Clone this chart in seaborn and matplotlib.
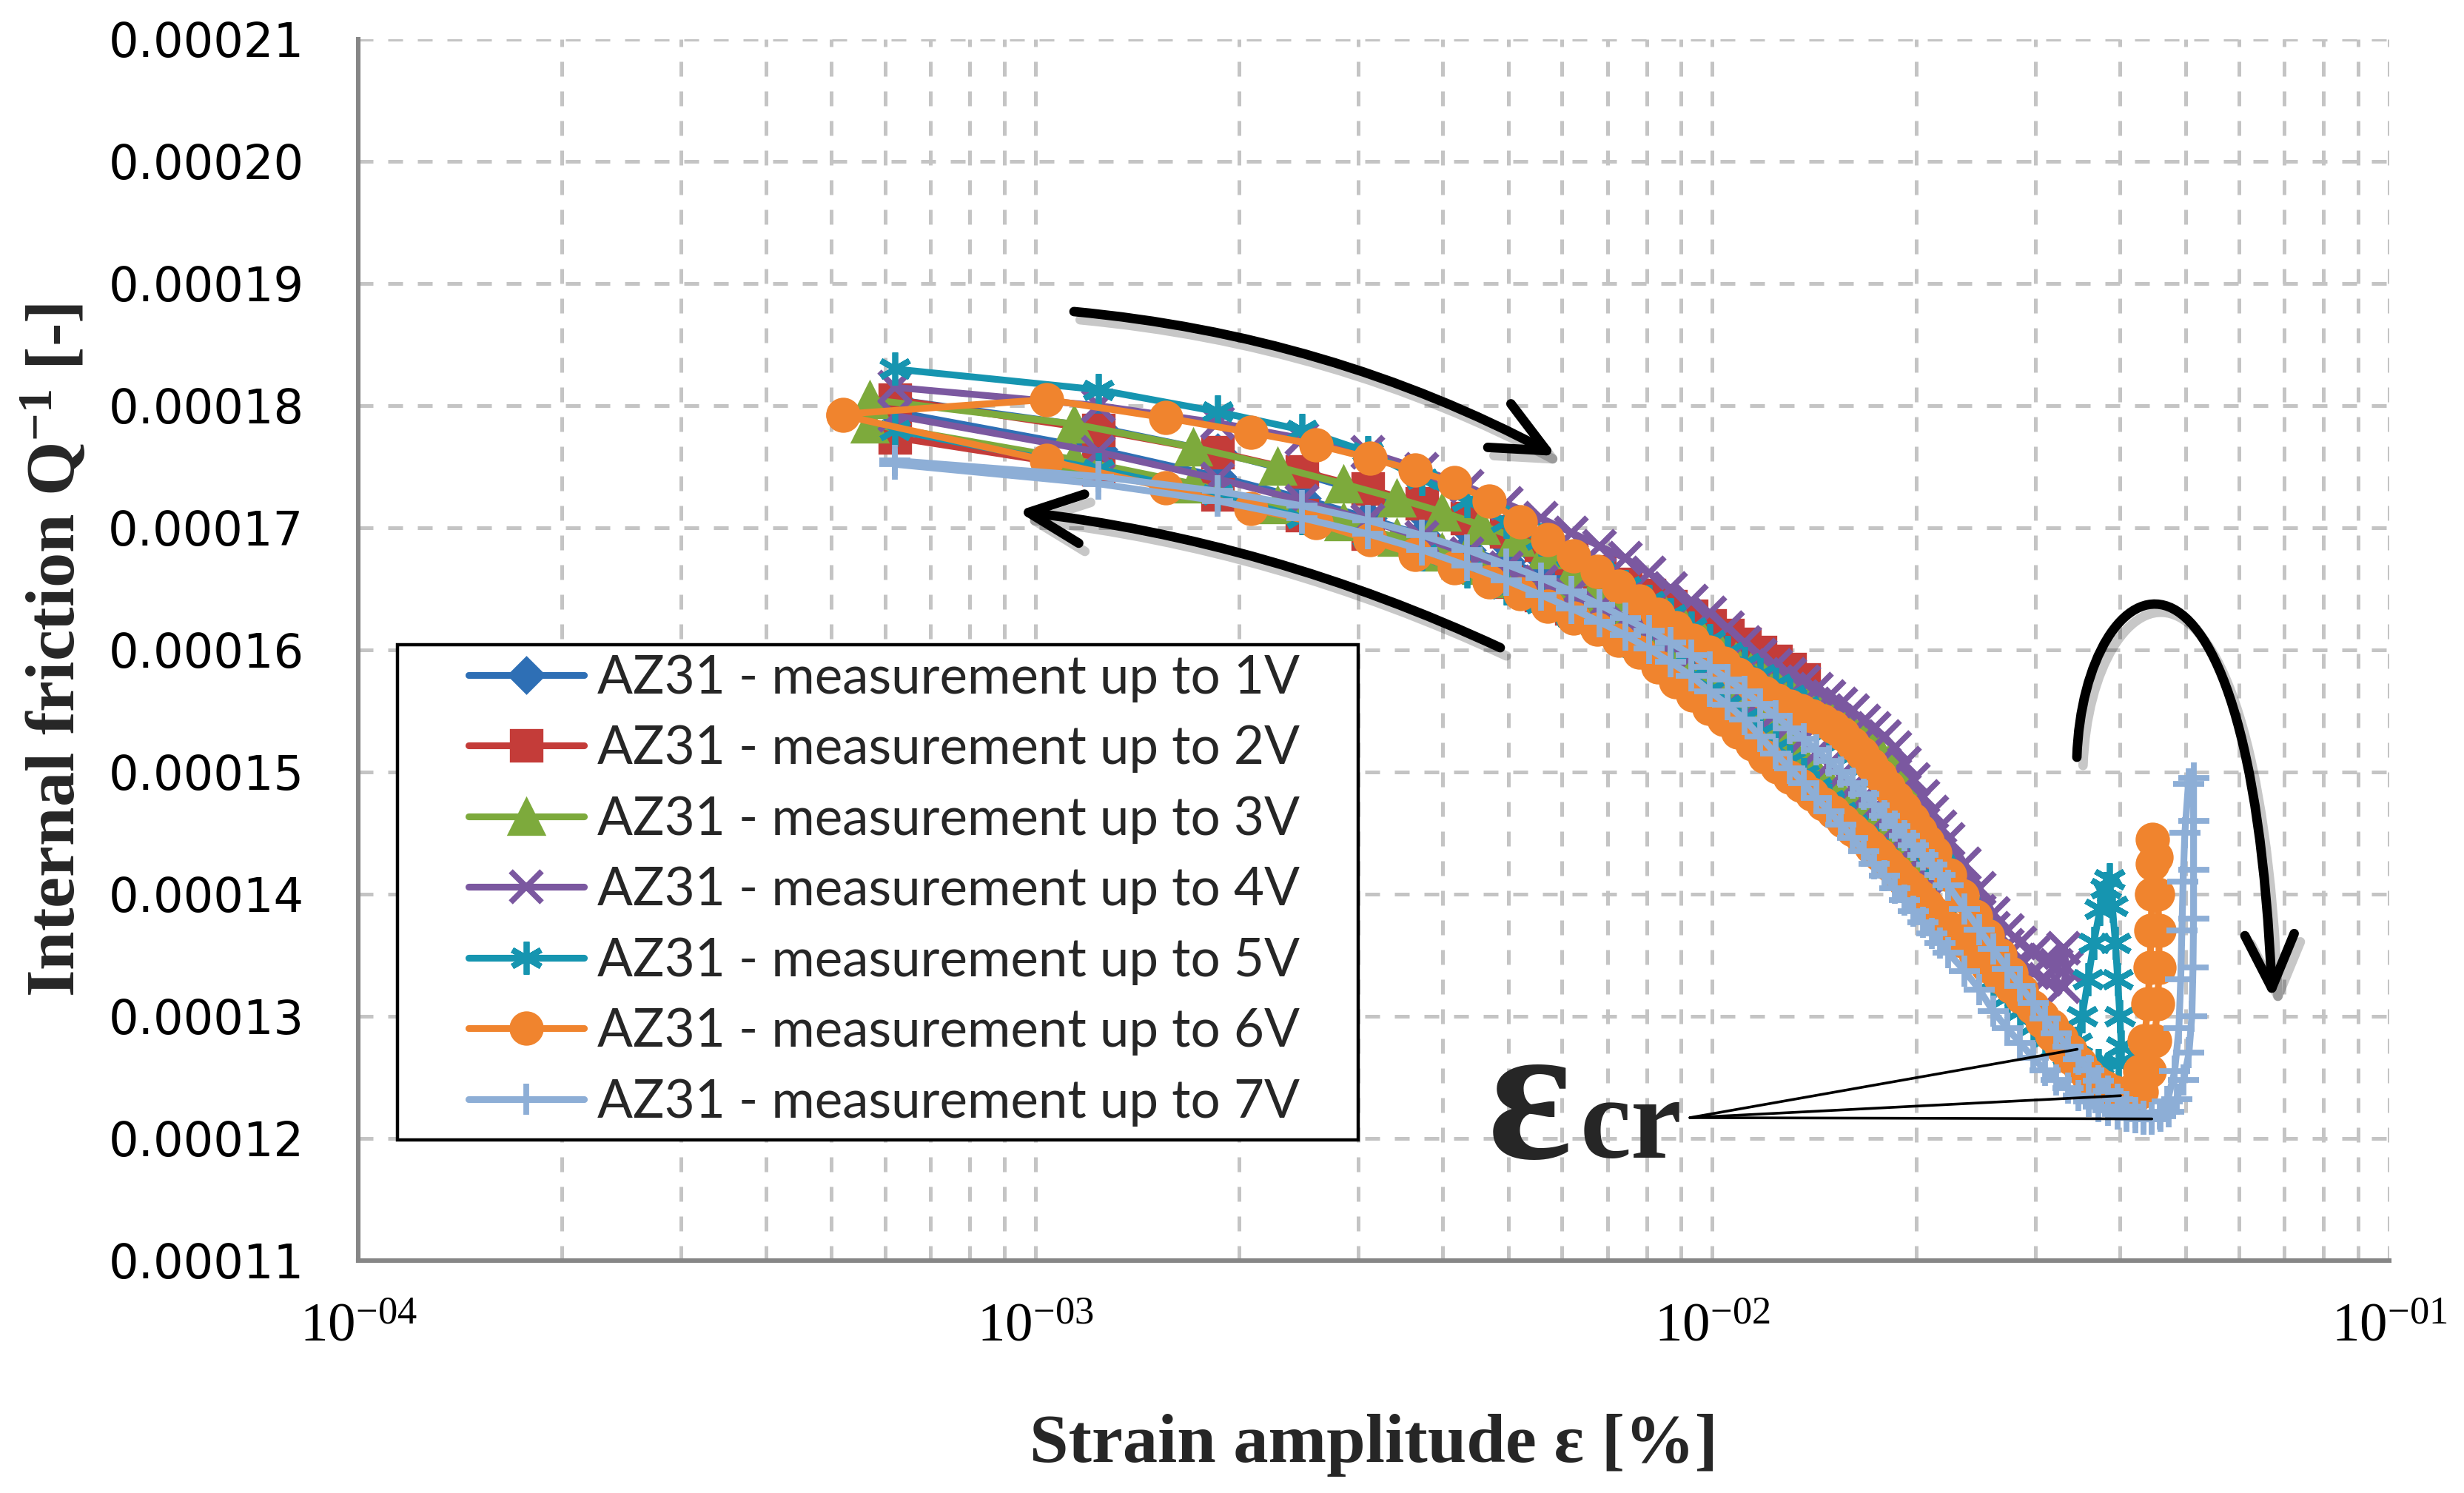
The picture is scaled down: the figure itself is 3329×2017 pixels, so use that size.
import numpy as np
import pandas as pd
import matplotlib
matplotlib.use("Agg")
import matplotlib.pyplot as plt
import matplotlib.patheffects as pe
from matplotlib.patches import FancyArrowPatch, Rectangle
from matplotlib.path import Path
from matplotlib.ticker import MultipleLocator, LogLocator, FuncFormatter, FormatStrFormatter, NullFormatter
import seaborn as sns

sns.set_style("white")
plt.rcParams["font.family"] = ["DejaVu Sans"]
plt.rcParams["mathtext.fontset"] = "custom"
plt.rcParams["mathtext.rm"] = "Liberation Serif"
plt.rcParams["mathtext.bf"] = "Liberation Serif:bold"
plt.rcParams["mathtext.it"] = "Liberation Serif:italic"

# strain amplitude ladders [%] (one step per 0.1 V of excitation)
strain_062 = [0.00062, 0.00124, 0.00186, 0.00248, 0.0031, 0.00372, 0.00434, 0.00496, 0.00558, 0.0062,
              0.00682, 0.00744, 0.00806, 0.00868, 0.0093, 0.00992, 0.01054, 0.01116, 0.01178, 0.0124,
              0.01302, 0.01364, 0.01426, 0.01488, 0.0155, 0.01612, 0.01674, 0.01736, 0.01798, 0.0186,
              0.01922, 0.01984, 0.02046, 0.02108, 0.0217, 0.02232, 0.0236, 0.0248, 0.026, 0.0273,
              0.0285, 0.0298, 0.031, 0.0322, 0.0335, 0.0347, 0.036, 0.0372, 0.0384, 0.0397,
              0.0409, 0.0422, 0.0434, 0.0446]
strain_057 = [0.00057, 0.00114, 0.00171, 0.00228, 0.00285, 0.00342, 0.00399, 0.00456, 0.00513, 0.0057,
              0.00627, 0.00684, 0.00741, 0.00798, 0.00855, 0.00912, 0.00969, 0.01026, 0.01083, 0.0114,
              0.01197, 0.01254, 0.01311, 0.01368, 0.01425, 0.01482, 0.01539, 0.01596, 0.01653, 0.0171,
              0.01767, 0.01824, 0.01881, 0.01938, 0.01995, 0.02052, 0.02109, 0.02166, 0.02223]
strain_052 = [0.00052, 0.00104, 0.00156, 0.00208, 0.0026, 0.00312, 0.00364, 0.00416, 0.00468, 0.0052,
              0.00572, 0.00624, 0.00676, 0.00728, 0.0078, 0.00832, 0.00884, 0.00936, 0.00988, 0.0104,
              0.01092, 0.01144, 0.01196, 0.01248, 0.013, 0.01352, 0.01404, 0.01456, 0.01508, 0.0156,
              0.01612, 0.01664, 0.01716, 0.01768, 0.0182, 0.01872, 0.01924, 0.01976, 0.02028, 0.0208,
              0.0213, 0.0224, 0.0234, 0.0245, 0.0255, 0.0266, 0.0276, 0.0286, 0.0297, 0.0307,
              0.0317, 0.0328, 0.0338, 0.0349, 0.0359, 0.0369, 0.038, 0.0395]

# internal friction Q^-1 in units of 1e-5; "up" = increasing amplitude, "dn" = decreasing (listed by rising strain)
q_up_1v = [18.05, 17.82, 17.62, 17.44, 17.28, 17.13, 17.00, 16.88, 16.77, 16.66, 16.56]
q_dn_1v = [17.95, 17.64, 17.42, 17.24, 17.08, 16.94, 16.82, 16.72, 16.63, 16.58]

q_up_2v = [18.05, 17.80, 17.62, 17.46, 17.32, 17.20, 17.08, 16.97, 16.86, 16.75, 16.64, 16.54, 16.45,
           16.36, 16.28, 16.20, 16.12, 16.05, 15.98, 15.91, 15.84, 15.76]
q_dn_2v = [17.74, 17.48, 17.27, 17.10, 16.95, 16.81, 16.68, 16.56, 16.45, 16.34, 16.24, 16.15, 16.07,
           16.00, 15.94, 15.89, 15.85, 15.81, 15.78, 15.76, 15.75]

q_up_3v = [18.05, 17.85, 17.66, 17.50, 17.36, 17.24, 17.13, 17.02, 16.92, 16.82, 16.68, 16.57, 16.47,
           16.37, 16.27, 16.17, 16.08, 15.99, 15.90, 15.82, 15.75, 15.69, 15.63, 15.58, 15.53, 15.48,
           15.43, 15.38, 15.31, 15.24, 15.16, 15.08, 14.99, 14.90, 14.80, 14.68, 14.55, 14.38, 14.18]
q_dn_3v = [17.85, 17.56, 17.36, 17.19, 17.05, 16.92, 16.80, 16.69, 16.58, 16.48, 16.38, 16.28, 16.18,
           16.08, 15.98, 15.88, 15.78, 15.68, 15.58, 15.48, 15.38, 15.28, 15.18, 15.08, 14.99, 14.91,
           14.83, 14.75, 14.67, 14.59, 14.51, 14.44, 14.38, 14.33, 14.28, 14.24, 14.21, 14.19]

q_up_4v = [18.15, 18.00, 17.86, 17.73, 17.62, 17.48, 17.34, 17.20, 17.08, 16.96, 16.85, 16.75, 16.63,
           16.50, 16.40, 16.30, 16.18, 16.06, 15.96, 15.87, 15.80, 15.74, 15.68, 15.62, 15.56, 15.50,
           15.42, 15.36, 15.29, 15.20, 15.07, 14.94, 14.80, 14.67, 14.55, 14.45, 14.25, 14.05, 13.84,
           13.70, 13.60, 13.52, 13.46, 13.42]
turn_x_4v = [0.0330, 0.0334, 0.0330]
turn_q_4v = [13.56, 13.40, 13.24]
q_dn_4v = [17.92, 17.62, 17.40, 17.22, 17.06, 16.92, 16.79, 16.67, 16.56, 16.45, 16.35, 16.25, 16.15,
           16.05, 15.95, 15.86, 15.77, 15.68, 15.58, 15.48, 15.38, 15.27, 15.16, 15.06, 14.97, 14.88,
           14.79, 14.70, 14.62, 14.54, 14.47, 14.39, 14.32, 14.25, 14.18, 14.11, 13.98, 13.86, 13.72,
           13.58, 13.46, 13.36, 13.30]

q_up_5v = [18.30, 18.13, 17.95, 17.80, 17.62, 17.40, 17.22, 17.05, 16.90, 16.77, 16.64, 16.52, 16.40,
           16.29, 16.18, 16.08, 15.98, 15.89, 15.80, 15.72, 15.63, 15.54, 15.44, 15.34, 15.24, 15.14,
           15.04, 14.94, 14.84, 14.74, 14.64, 14.54, 14.44, 14.34, 14.24, 14.13, 13.92, 13.72, 13.54,
           13.36, 13.20, 13.05, 12.93, 12.83, 12.76]
turn_x_5v = [0.0346, 0.0352, 0.0359, 0.0366, 0.0374, 0.0381, 0.0386, 0.0390, 0.0394, 0.0397, 0.0400,
             0.0402, 0.0398]
turn_q_5v = [12.78, 13.00, 13.30, 13.60, 13.88, 14.05, 14.12, 13.90, 13.60, 13.30, 13.00, 12.75, 12.62]
q_dn_5v = [17.80, 17.48, 17.27, 17.08, 16.92, 16.78, 16.64, 16.50, 16.38, 16.27, 16.17, 16.07, 15.98,
           15.88, 15.78, 15.67, 15.56, 15.44, 15.32, 15.20, 15.09, 14.98, 14.87, 14.77, 14.67, 14.57,
           14.47, 14.38, 14.29, 14.20, 14.11, 14.02, 13.94, 13.86, 13.78, 13.70, 13.55, 13.42, 13.29,
           13.16, 13.04, 12.92, 12.82, 12.74, 12.67, 12.62, 12.60, 12.60]

q_up_6v = [17.93, 18.05, 17.90, 17.78, 17.68, 17.57, 17.47, 17.37, 17.22, 17.05, 16.90, 16.77, 16.64,
           16.52, 16.40, 16.29, 16.18, 16.08, 15.98, 15.89, 15.80, 15.72, 15.65, 15.59, 15.54, 15.50,
           15.46, 15.42, 15.37, 15.31, 15.23, 15.15, 15.06, 14.97, 14.88, 14.79, 14.70, 14.61, 14.52,
           14.43, 14.34, 14.16, 13.99, 13.82, 13.66, 13.50, 13.35, 13.21, 13.08, 12.96, 12.85, 12.75,
           12.66, 12.58, 12.51, 12.46, 12.42]
turn_x_6v = [0.0392, 0.0405, 0.0418, 0.0428, 0.0435, 0.0440, 0.0443, 0.0445, 0.0446, 0.0447, 0.0447,
             0.0452, 0.0455, 0.0457, 0.0457, 0.0455, 0.0450, 0.0442, 0.0430, 0.0415]
turn_q_6v = [12.38, 12.36, 12.40, 12.55, 12.80, 13.10, 13.40, 13.70, 14.00, 14.25, 14.45, 14.30, 14.00,
             13.70, 13.40, 13.10, 12.80, 12.55, 12.38, 12.30]
q_dn_6v = [17.92, 17.55, 17.33, 17.16, 17.04, 16.90, 16.78, 16.67, 16.56, 16.46, 16.36, 16.26, 16.17,
           16.08, 15.98, 15.86, 15.74, 15.63, 15.52, 15.43, 15.33, 15.23, 15.13, 15.04, 14.96, 14.89,
           14.82, 14.74, 14.67, 14.60, 14.53, 14.46, 14.39, 14.32, 14.25, 14.18, 14.11, 14.05, 13.98,
           13.91, 13.84, 13.72, 13.62, 13.51, 13.41, 13.32, 13.24, 13.16, 13.07, 13.00, 12.92, 12.82,
           12.72, 12.62, 12.52, 12.44, 12.36, 12.30]

q_up_7v = [17.55, 17.42, 17.30, 17.18, 17.06, 16.94, 16.82, 16.70, 16.59, 16.48, 16.37, 16.26, 16.16,
           16.06, 15.96, 15.86, 15.76, 15.66, 15.56, 15.46, 15.36, 15.27, 15.18, 15.09, 15.00, 14.91,
           14.82, 14.73, 14.64, 14.56, 14.48, 14.40, 14.32, 14.24, 14.16, 14.07, 13.88, 13.71, 13.55,
           13.39, 13.25, 13.11, 12.98, 12.86, 12.75, 12.65, 12.56, 12.47, 12.39, 12.32, 12.26, 12.21,
           12.18, 12.17]
turn_x_7v = [0.0459, 0.0472, 0.0485, 0.0497, 0.0506, 0.0511, 0.0513, 0.0514, 0.0514, 0.0514, 0.0514,
             0.0505, 0.0499, 0.0496, 0.0494, 0.0492, 0.0489, 0.0482, 0.0470, 0.0458]
turn_q_7v = [12.18, 12.22, 12.32, 12.48, 12.70, 13.00, 13.40, 13.80, 14.20, 14.60, 14.95, 14.90, 14.50,
             14.10, 13.70, 13.30, 12.90, 12.55, 12.30, 12.20]
q_dn_7v = [17.52, 17.36, 17.22, 17.08, 16.95, 16.82, 16.69, 16.57, 16.45, 16.34, 16.23, 16.12, 16.01,
           15.90, 15.79, 15.66, 15.55, 15.43, 15.29, 15.15, 15.03, 14.91, 14.79, 14.68, 14.57, 14.46,
           14.35, 14.25, 14.15, 14.05, 13.95, 13.86, 13.77, 13.68, 13.60, 13.52, 13.37, 13.22, 13.04,
           12.90, 12.78, 12.66, 12.56, 12.48, 12.41, 12.35, 12.30, 12.26, 12.23, 12.20, 12.18, 12.17,
           12.16, 12.16]

labels = ["AZ31 - measurement up to %dV" % v for v in range(1, 8)]
colors = ["#2E6FB5", "#C43C39", "#7DAA3C", "#7B58A0", "#1695B0", "#F0842E", "#8DAED6"]

# critical strain marker lines (start at the label, end at the minima)
ecr_start = (0.00927, 1.217e-4)
ecr_end_x = [0.0346, 0.0401, 0.0446]
ecr_end_q = [1.273e-4, 1.235e-4, 1.216e-4]

series = [
    (strain_062, q_up_1v, [], [], q_dn_1v, "D", 12, 1.2),
    (strain_062, q_up_2v, [], [], q_dn_2v, "s", 15, 1.2),
    (strain_057, q_up_3v, [], [], q_dn_3v, "^", 17, 1.2),
    (strain_062, q_up_4v, turn_x_4v, turn_q_4v, q_dn_4v, "x", 15, 2.8),
    (strain_062, q_up_5v, turn_x_5v, turn_q_5v, q_dn_5v, (6, 2, 0), 16, 2.8),
    (strain_052, q_up_6v, turn_x_6v, turn_q_6v, q_dn_6v, "o", 15.5, 1.2),
    (strain_062, q_up_7v, turn_x_7v, turn_q_7v, q_dn_7v, "+", 15, 2.8),
]

fig = plt.figure(figsize=(16.65, 10.085), dpi=200)
ax = fig.add_axes([0.14535, 0.15568, 0.82402, 0.81805])

for (ladder, q_up, tx, tq, q_dn, marker, ms, mew), name, color in zip(series, labels, colors):
    xs = list(ladder[:len(q_up)]) + tx + list(ladder[:len(q_dn)])[::-1]
    qs = q_up + tq + q_dn[::-1]
    df = pd.DataFrame({"strain": xs, "q": np.array(qs) * 1e-5})
    sns.lineplot(data=df, x="strain", y="q", sort=False, estimator=None, ax=ax,
                 color=color, lw=3.3, marker=marker, markersize=ms,
                 markerfacecolor=color, markeredgecolor=color, markeredgewidth=mew,
                 label=name)

handles, leg_labels = ax.get_legend_handles_labels()

# axes
ax.set_xscale("log")
ax.set_xlim(1e-4, 1e-1)
ax.set_ylim(0.00011, 0.00021)
ax.xaxis.set_major_locator(LogLocator(base=10, numticks=10))
ax.xaxis.set_minor_locator(LogLocator(base=10, subs=np.arange(2, 10), numticks=20))
ax.xaxis.set_minor_formatter(NullFormatter())
ax.xaxis.set_major_formatter(FuncFormatter(
    lambda v, p: r"10$^{\mathrm{-%02d}}$" % (-int(round(np.log10(v))))))
ax.yaxis.set_major_locator(MultipleLocator(0.00001))
ax.yaxis.set_minor_locator(MultipleLocator(0.000002))
ax.yaxis.set_major_formatter(FormatStrFormatter("%.5f"))

grid_kw = dict(color="#C4C4C4", lw=1.8, ls=(0, (4, 4)))
ax.set_axisbelow(True)
ax.grid(True, which="major", axis="both", **grid_kw)
ax.grid(True, which="minor", axis="x", **grid_kw)

for s in ["top", "right"]:
    ax.spines[s].set_visible(False)
for s in ["left", "bottom"]:
    ax.spines[s].set_color("#868686")
    ax.spines[s].set_linewidth(2.2)

ax.tick_params(axis="y", which="major", direction="inout", length=14, width=2, color="#868686",
               labelsize=23, pad=19.5, labelcolor="black")
ax.tick_params(axis="y", which="minor", direction="in", length=6, width=1.6, color="#868686")
ax.tick_params(axis="x", which="major", direction="out", length=8.5, width=1.6, color="#868686",
               labelsize=27, pad=12, labelfontfamily="Liberation Serif", labelcolor="black")
ax.tick_params(axis="x", which="minor", direction="in", length=7, width=1.6, color="#868686")

ax.set_xlabel("Strain amplitude ε [%]", fontfamily="Liberation Serif", fontweight="bold",
              fontsize=34, va="baseline")
ax.xaxis.set_label_coords(0.5, -0.1648)
ax.set_ylabel(r"Internal friction Q$^{\mathbf{-1}}$ [-]", fontfamily="Liberation Serif",
              fontweight="bold", fontsize=34, va="baseline")
ax.yaxis.set_label_coords(-0.1396, 0.5)

# legend with a plain black box
ax.add_patch(Rectangle((0.0193, 0.0988), 0.4731, 0.4055, transform=ax.transAxes,
                       facecolor="white", edgecolor="black", lw=1.6, zorder=4))
leg = ax.legend(handles, leg_labels, loc="upper left", bbox_to_anchor=(0.0543, 0.4965),
                frameon=False, borderpad=0, borderaxespad=0, handlelength=2.2,
                handletextpad=0.25, labelspacing=0.43, prop={"family": "Lato", "size": 25.5})
leg.set_zorder(5)

# hysteresis arrows
shadow = [pe.SimpleLineShadow(offset=(3, -4), shadow_color="k", alpha=0.22), pe.Normal()]
arrow_style = "->,head_length=1.3,head_width=0.6"
for xy, xytext, rad in [((0.590, 0.6588), (0.3524, 0.777), -0.1),
                        ((0.3245, 0.6136), (0.5623, 0.5018), 0.08)]:
    ann = ax.annotate("", xy=xy, xytext=xytext, xycoords="axes fraction",
                      arrowprops=dict(arrowstyle=arrow_style, mutation_scale=20, lw=4.6,
                                      color="black", shrinkA=0, shrinkB=0,
                                      connectionstyle="arc3,rad=%s" % rad), zorder=6)
    ann.arrow_patch.set_path_effects(shadow)

loop_path = Path([(0.8462, 0.4121), (0.8495, 0.5715), (0.9315, 0.6442), (0.9424, 0.2139)],
                 [Path.MOVETO, Path.CURVE4, Path.CURVE4, Path.CURVE4])
loop_arrow = FancyArrowPatch(path=loop_path, arrowstyle=arrow_style, mutation_scale=20, lw=4.6,
                             color="black", transform=ax.transAxes, zorder=6, clip_on=False)
loop_arrow.set_path_effects(shadow)
ax.add_patch(loop_arrow)

# critical strain annotation
for ex, eq in zip(ecr_end_x, ecr_end_q):
    ax.plot([ecr_start[0], ex], [ecr_start[1], eq], color="black", lw=1.3, zorder=7)
ax.text(0.00466, 1.184e-4, "ε", fontfamily="Liberation Serif", fontweight="bold", fontsize=96,
        ha="left", va="baseline", zorder=7)
ax.text(0.00638, 1.184e-4, "cr", fontfamily="Liberation Serif", fontweight="bold", fontsize=56,
        ha="left", va="baseline", zorder=7)

fig.savefig("out.png", dpi=200, facecolor="white")
